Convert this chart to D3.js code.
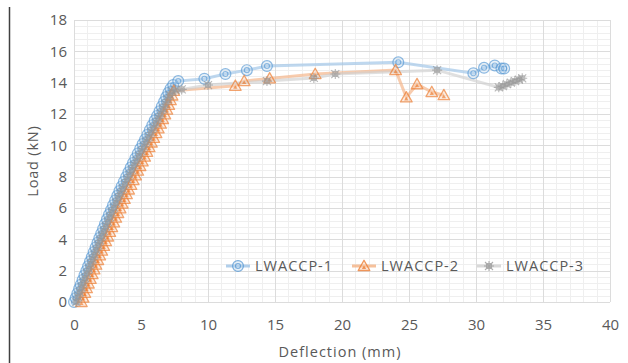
<!DOCTYPE html>
<meta charset="utf-8">
<style>
  body { margin: 0; background: #fff; }
  text { font-family: 'Open Sans', sans-serif; fill: #595959; }
</style>
<body>
<div id="chart"></div>
<script src="https://d3js.org/d3.v7.min.js"></script>
<script>
// series names
var seriesNames = ["LWACCP-1", "LWACCP-2", "LWACCP-3"];

// LWACCP-1 : deflection (mm) and load (kN)
var defl1 = [0.00,0.12,0.25,0.38,0.50,0.64,0.78,0.92,1.05,1.19,1.33,1.47,1.61,1.75,1.89,2.03,2.17,2.31,2.46,2.61,2.76,2.91,3.07,3.23,3.39,3.55,3.72,3.89,4.06,4.23,4.40,4.58,4.76,4.94,5.12,5.30,5.48,5.66,5.84,6.02,6.20,6.38,6.55,6.72,6.88,7.04,7.20,7.40,
             7.78,9.73,11.3,12.9,14.4,24.2,29.8,30.6,31.4,31.9,32.1];
var load1 = [0.00,0.25,0.55,0.85,1.10,1.40,1.70,2.00,2.28,2.58,2.88,3.18,3.48,3.78,4.08,4.38,4.68,4.98,5.28,5.58,5.88,6.18,6.48,6.78,7.08,7.38,7.68,7.98,8.28,8.58,8.88,9.18,9.48,9.78,10.08,10.38,10.68,10.98,11.28,11.58,11.88,12.18,12.48,12.78,13.08,13.36,13.62,13.85,
             14.10,14.25,14.55,14.80,15.06,15.30,14.60,14.95,15.10,14.90,14.90];

// LWACCP-2
var defl2 = [0.55,0.68,0.81,0.94,1.08,1.22,1.36,1.50,1.64,1.78,1.92,2.07,2.22,2.37,2.52,2.67,2.82,2.97,3.12,3.28,3.44,3.60,3.76,3.92,4.08,4.25,4.42,4.59,4.76,4.93,5.10,5.27,5.44,5.61,5.78,5.95,6.12,6.29,6.46,6.62,6.78,6.93,7.07,7.20,7.32,7.44,
             12.04,12.7,14.6,18.0,24.0,24.8,25.6,26.7,27.6];
var load2 = [0.00,0.28,0.58,0.88,1.18,1.48,1.78,2.08,2.38,2.68,2.98,3.28,3.58,3.88,4.18,4.48,4.78,5.08,5.38,5.68,5.98,6.28,6.58,6.88,7.18,7.48,7.78,8.08,8.38,8.68,8.98,9.28,9.58,9.88,10.18,10.48,10.78,11.08,11.38,11.68,11.98,12.28,12.58,12.88,13.18,13.48,
             13.80,14.10,14.27,14.55,14.80,13.06,13.90,13.40,13.20];

// LWACCP-3
var defl3 = [0.18,0.30,0.43,0.56,0.69,0.83,0.97,1.11,1.25,1.39,1.53,1.67,1.81,1.95,2.09,2.23,2.38,2.53,2.68,2.83,2.99,3.15,3.31,3.47,3.64,3.81,3.98,4.15,4.32,4.50,4.68,4.86,5.04,5.22,5.40,5.58,5.76,5.94,6.12,6.30,6.48,6.66,6.83,7.00,7.16,7.33,7.60,
             8.04,10.0,14.4,17.9,19.5,27.1,31.7,32.0,32.3,32.6,32.9,33.2,33.45];
var load3 = [0.00,0.32,0.62,0.92,1.22,1.52,1.82,2.12,2.42,2.72,3.02,3.32,3.62,3.92,4.22,4.52,4.82,5.12,5.42,5.72,6.02,6.32,6.62,6.92,7.22,7.52,7.82,8.12,8.42,8.72,9.02,9.32,9.62,9.92,10.22,10.52,10.82,11.12,11.42,11.72,12.02,12.32,12.62,12.92,13.20,13.42,13.52,
             13.57,13.85,14.10,14.30,14.55,14.80,13.70,13.78,13.90,14.00,14.10,14.20,14.28];

var xTicks = [0, 5, 10, 15, 20, 25, 30, 35, 40];
var yTicks = [0, 2, 4, 6, 8, 10, 12, 14, 16, 18];

var W = 628, H = 363;
var margin = {top: 20, right: 18, bottom: 61, left: 74};
var width = W - margin.left - margin.right,
    height = H - margin.top - margin.bottom;

var svg = d3.select("#chart").append("svg")
    .attr("width", W).attr("height", H);

// the dark rule at the left edge of the picture
svg.append("line").attr("x1", 9.5).attr("x2", 9.5).attr("y1", 7).attr("y2", H)
    .style("stroke", "#404040").style("stroke-width", 1.5);

var g = svg.append("g").attr("transform", "translate(" + margin.left + "," + margin.top + ")");

var x = d3.scaleLinear().domain([0, 40]).range([0, width]);
var y = d3.scaleLinear().domain([0, 18]).range([height, 0]);

// minor grid
g.append("g").selectAll("line").data(x.ticks(40)).enter().append("line")
    .attr("x1", d => Math.round(x(d)) + 0.5).attr("x2", d => Math.round(x(d)) + 0.5)
    .attr("y1", 0).attr("y2", height)
    .style("stroke", "#efefef");
g.append("g").selectAll("line").data(d3.range(0, 18.01, 0.4)).enter().append("line")
    .attr("y1", d => Math.round(y(d)) + 0.5).attr("y2", d => Math.round(y(d)) + 0.5)
    .attr("x1", 0).attr("x2", width)
    .style("stroke", "#efefef");

// major grid
g.append("g").selectAll("line").data(xTicks).enter().append("line")
    .attr("x1", d => Math.round(x(d)) + 0.5).attr("x2", d => Math.round(x(d)) + 0.5)
    .attr("y1", 0).attr("y2", height)
    .style("stroke", "#dcdcdc");
g.append("g").selectAll("line").data(yTicks).enter().append("line")
    .attr("y1", d => Math.round(y(d)) + 0.5).attr("y2", d => Math.round(y(d)) + 0.5)
    .attr("x1", 0).attr("x2", width)
    .style("stroke", "#dcdcdc");

// axes (labels only)
var xAxis = g.append("g").attr("transform", "translate(0," + height + ")")
    .call(d3.axisBottom(x).tickValues(xTicks).tickSize(0).tickPadding(17));
var yAxis = g.append("g")
    .call(d3.axisLeft(y).tickValues(yTicks).tickSize(0).tickPadding(7));
[xAxis, yAxis].forEach(function(a) {
  a.select(".domain").remove();
  a.selectAll("text").style("font-size", "15px").style("fill", "#595959")
    .style("font-family", "'Open Sans', sans-serif");
});

svg.append("text").attr("x", margin.left + width / 2 - 2).attr("y", 357)
    .attr("text-anchor", "middle").style("font-size", "14.5px").style("letter-spacing", "1px")
    .text("Deflection (mm)");
svg.append("text").attr("transform", "translate(38,161) rotate(-90)")
    .attr("text-anchor", "middle").style("font-size", "14.5px").style("letter-spacing", "0.8px")
    .text("Load (kN)");

var colors = ["#5b9bd5", "#ed7d31", "#a5a5a5"];
var lineColors = ["#9dc3e6", "#f4b183", "#cfcfcf"];
var series = [
  {name: seriesNames[0], pts: d3.zip(defl1, load1)},
  {name: seriesNames[1], pts: d3.zip(defl2, load2)},
  {name: seriesNames[2], pts: d3.zip(defl3, load3)}
];

var line = d3.line().x(d => x(d[0])).y(d => y(d[1]));

// marker painters
function drawMarker(sel, i) {
  var c = colors[i];
  if (i === 0) {
    sel.append("circle").attr("r", 5.4).style("fill", "#bdd7ee").style("fill-opacity", 0.45)
      .style("stroke", c).style("stroke-width", 1.2);
    sel.append("circle").attr("r", 2.5).style("fill", "none")
      .style("stroke", c).style("stroke-width", 1.1);
  } else if (i === 1) {
    sel.append("path").attr("d", "M0,-5.8L5.8,4.5L-5.8,4.5Z").style("fill", "#f8cbad").style("fill-opacity", 0.5)
      .style("stroke", c).style("stroke-width", 1.3).style("stroke-linejoin", "round");
    sel.append("path").attr("d", "M0,-0.6L2.2,3L-2.2,3Z").style("fill", c);
  } else {
    sel.append("path").attr("d", "M-4,-4L4,4M-4,4L4,-4M0,-5V5M-5,0H5M-2.5,-2.5H2.5V2.5H-2.5Z")
      .style("fill", "none").style("stroke", "#999").style("stroke-width", 1.1);
  }
}

series.forEach(function(s, i) {
  g.append("path").datum(s.pts).attr("d", line)
    .style("fill", "none").style("stroke", lineColors[i]).style("stroke-width", 3)
    .style("stroke-opacity", 0.65);
});
series.forEach(function(s, i) {
  g.append("g").selectAll("g").data(s.pts).enter().append("g")
    .attr("transform", d => "translate(" + x(d[0]) + "," + y(d[1]) + ")")
    .style("opacity", 0.7)
    .each(function() { drawMarker(d3.select(this), i); });
});

// legend
var legX = [226, 352, 477];
var leg = svg.append("g");
series.forEach(function(s, i) {
  var lg = leg.append("g").attr("transform", "translate(" + legX[i] + ",266)");
  lg.append("line").attr("x1", 0).attr("x2", 24).style("stroke", lineColors[i])
    .style("stroke-width", 3).style("stroke-opacity", 0.8);
  var m = lg.append("g").attr("transform", "translate(12,0)").style("opacity", 0.8);
  drawMarker(m, i);
  lg.append("text").attr("x", 29).attr("y", 5).style("font-size", "14.5px")
    .style("letter-spacing", "1px").text(s.name);
});
</script>
</body>
